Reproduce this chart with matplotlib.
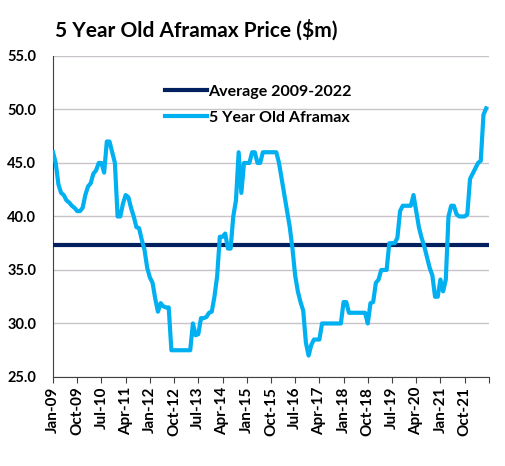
import matplotlib
matplotlib.use("Agg")
import matplotlib.pyplot as plt
import numpy as np
import pandas as pd

# monthly prices, Jan-09 .. Jun-22 ($m)
price = [
    46.0, 45.0, 43.0, 42.2, 42.0, 41.5, 41.3, 41.0, 40.8, 40.5, 40.5, 40.8,   # 2009
    42.0, 42.8, 43.1, 44.0, 44.3, 45.0, 45.0, 44.1, 47.0, 47.0, 46.0, 45.0,   # 2010
    40.0, 40.0, 41.2, 42.0, 41.8, 40.8, 40.0, 39.0, 38.9, 37.8, 36.9, 35.2,   # 2011
    34.3, 33.8, 32.3, 31.1, 31.9, 31.6, 31.5, 31.5, 27.5, 27.5, 27.5, 27.5,   # 2012
    27.5, 27.5, 27.5, 27.5, 30.0, 28.9, 29.0, 30.5, 30.5, 30.6, 31.0, 31.1,   # 2013
    32.5, 34.4, 38.1, 38.1, 38.4, 37.0, 37.0, 40.0, 41.5, 46.0, 42.2, 45.0,   # 2014
    45.0, 45.0, 46.0, 46.0, 45.0, 45.0, 46.0, 46.0, 46.0, 46.0, 46.0, 46.0,   # 2015
    45.0, 43.5, 42.0, 40.5, 39.0, 37.0, 34.5, 33.0, 32.0, 31.2, 28.2, 27.0,   # 2016
    28.0, 28.5, 28.5, 28.5, 30.0, 30.0, 30.0, 30.0, 30.0, 30.0, 30.0, 30.0,   # 2017
    32.0, 32.0, 31.0, 31.0, 31.0, 31.0, 31.0, 31.0, 31.0, 30.0, 31.9, 32.0,   # 2018
    33.8, 34.1, 35.0, 35.0, 35.0, 37.5, 37.5, 37.5, 38.0, 40.5, 41.0, 41.0,   # 2019
    41.0, 41.0, 42.0, 40.5, 39.0, 38.0, 37.2, 36.2, 35.2, 34.5, 32.5, 32.5,   # 2020
    34.1, 33.0, 34.1, 40.0, 41.0, 41.0, 40.2, 40.0, 40.0, 40.0, 40.2, 43.5,   # 2021
    44.0, 44.5, 45.0, 45.2, 49.5, 50.1,                                       # 2022
]
avg_value = 37.3

months = np.arange(len(price))

tick_pos = np.arange(0, 163, 9)
tick_labels = [pd.Timestamp("2009-01-01") + pd.DateOffset(months=int(m)) for m in tick_pos]
tick_labels = [d.strftime("%b-%y") for d in tick_labels]
tick_labels[-1] = ""

plt.rcParams["font.family"] = ["Lato", "DejaVu Sans"]

fig = plt.figure(figsize=(5.05, 4.66), dpi=100)
ax = fig.add_axes([0.105, 0.191, 0.863, 0.689])

ax.axhline(avg_value, color="#002060", lw=3.0, label="Average 2009-2022", zorder=3)
ax.plot(months, price, color="#00B0F0", lw=3.0, label="5 Year Old Aframax", zorder=4)

ax.set_xlim(0, 162)
ax.set_ylim(25, 55)
ax.set_yticks(np.arange(25, 55.1, 5))
ax.set_yticklabels([f"{v:.1f}" for v in np.arange(25, 55.1, 5)],
                   fontsize=10.5, fontweight="bold")
ax.set_xticks(tick_pos)
ax.set_xticklabels(tick_labels, rotation=90, fontsize=11, fontweight="bold")

ax.grid(axis="y", color="#CBC3CB", lw=1.0)
ax.set_axisbelow(True)
for s in ["top", "right"]:
    ax.spines[s].set_visible(False)
ax.spines["left"].set_color("#404040")
ax.spines["bottom"].set_color("#404040")
ax.tick_params(axis="y", length=0, pad=12)
ax.tick_params(axis="x", length=4, direction="out", color="#404040", pad=3)

ax.legend(loc="upper left", bbox_to_anchor=(0.225, 0.955), frameon=False,
          prop={"size": 11.5, "weight": "bold"}, handlelength=2.6,
          handletextpad=0.1, labelspacing=0.75)

fig.text(0.108, 0.935, "5 Year Old Aframax Price ($m)", fontsize=15,
         fontweight="bold", ha="left", va="center")

fig.savefig("out.png", dpi=100)
